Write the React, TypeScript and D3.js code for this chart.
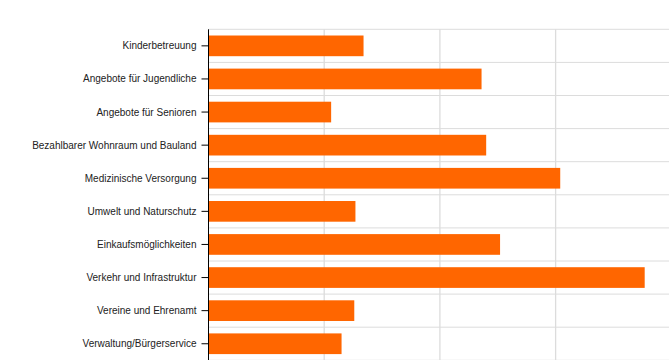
import React from "react";
import * as d3 from "d3";

const categories = [
  "Kinderbetreuung",
  "Angebote für Jugendliche",
  "Angebote für Senioren",
  "Bezahlbarer Wohnraum und Bauland",
  "Medizinische Versorgung",
  "Umwelt und Naturschutz",
  "Einkaufsmöglichkeiten",
  "Verkehr und Infrastruktur",
  "Vereine und Ehrenamt",
  "Verwaltung/Bürgerservice",
];
const values = [13.4, 23.6, 10.6, 24.0, 30.4, 12.7, 25.2, 37.7, 12.6, 11.5];
const xTicks = [0, 10, 20, 30, 40];

const W = 669;
const H = 360;

export default function App() {
  const x = d3.scaleLinear().domain([0, 40]).range([208.5, 671.3]);
  const y = d3
    .scaleBand<string>()
    .domain(categories)
    .range([29.3, 360.3])
    .paddingInner(0.375)
    .paddingOuter(0.1875);
  const step = y.step();
  const half = (step - y.bandwidth()) / 2;
  const boundaries = categories.map((c) => (y(c) as number) - half);
  boundaries.push((y(categories[categories.length - 1]) as number) + y.bandwidth() + half);

  return (
    <svg
      width={W}
      height={H}
      style={{ position: "absolute", left: 0, top: 0, background: "#fff" }}
    >
      {xTicks.slice(1).map((t) => (
        <line key={"v" + t} x1={x(t)} x2={x(t)} y1={29.3} y2={H} stroke="#dcdcdc" strokeWidth={1.3} />
      ))}
      {boundaries.map((b, i) => (
        <line key={"h" + i} x1={x(0)} x2={W} y1={b} y2={b} stroke="#dcdcdc" strokeWidth={1} />
      ))}
      {categories.map((c, i) => (
        <rect
          key={c}
          x={x(0)}
          y={y(c)}
          width={x(values[i]) - x(0)}
          height={y.bandwidth()}
          fill="#ff6600"
        />
      ))}
      <line x1={x(0)} x2={x(0)} y1={29.3} y2={H} stroke="#000" strokeWidth={1} />
      {categories.map((c) => {
        const cy = (y(c) as number) + y.bandwidth() / 2;
        return (
          <g key={"l" + c}>
            <line x1={x(0) - 7} x2={x(0)} y1={cy} y2={cy} stroke="#000" strokeWidth={1} />
            <text
              x={x(0) - 12}
              y={cy}
              dy="0.35em"
              textAnchor="end"
              fontFamily="Liberation Sans, Arial, sans-serif"
              fontSize={10}
              fill="#222"
            >
              {c}
            </text>
          </g>
        );
      })}
    </svg>
  );
}
